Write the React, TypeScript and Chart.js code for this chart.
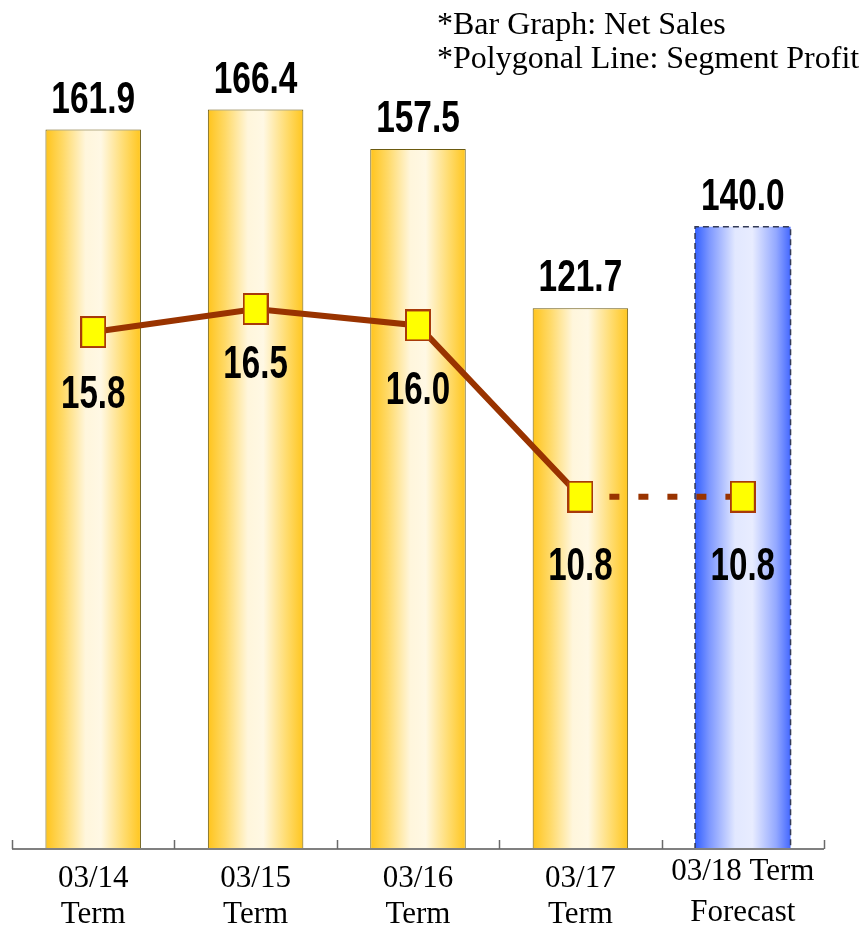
import React, { useEffect, useRef } from 'react';
import { Chart, registerables } from 'chart.js';
Chart.register(...registerables);

// ---- data ----
const categoryLines: string[][] = [
  ['03/14', 'Term'],
  ['03/15', 'Term'],
  ['03/16', 'Term'],
  ['03/17', 'Term'],
  ['03/18 Term', 'Forecast'],
];
const netSales: number[] = [161.9, 166.4, 157.5, 121.7, 140.0];
const segmentProfit: number[] = [15.8, 16.5, 16.0, 10.8, 10.8];
const forecastIndex = 4;
const legendLines: string[] = ['*Bar Graph: Net Sales', '*Polygonal Line: Segment Profit'];

// ---- style ----
const W = 863;
const H = 927;
const BAR_PCT = 0.588;
const lineLabelOffsets = [76, 69, 79, 83, 83];
const LINE_COLOR = '#993300';
const MARKER_BORDER = '#A83A0A';

function makeMarker(): HTMLCanvasElement {
  const c = document.createElement('canvas');
  c.width = 26;
  c.height = 32;
  const g = c.getContext('2d')!;
  g.fillStyle = '#FFFF00';
  g.fillRect(1, 1, 24, 30);
  g.strokeStyle = MARKER_BORDER;
  g.lineWidth = 2;
  g.strokeRect(1, 1, 24, 30);
  return c;
}

function barBg(ctx: any) {
  const chart = ctx.chart;
  const xs = chart.scales?.x;
  if (!xs || ctx.dataIndex === undefined || !chart.chartArea) return '#FFC820';
  const cx = xs.getPixelForValue(ctx.dataIndex);
  const half = ((chart.chartArea.right - chart.chartArea.left) / netSales.length) * BAR_PCT / 2;
  const g = chart.ctx.createLinearGradient(cx - half, 0, cx + half, 0);
  if (ctx.dataIndex === forecastIndex) {
    g.addColorStop(0, '#3360FF');
    g.addColorStop(0.15, '#7D97FF');
    g.addColorStop(0.42, '#E2E8FF');
    g.addColorStop(0.6, '#E8ECFF');
    g.addColorStop(0.85, '#93A8FF');
    g.addColorStop(1, '#4468FF');
  } else {
    g.addColorStop(0, '#FFC41C');
    g.addColorStop(0.18, '#FFD966');
    g.addColorStop(0.42, '#FFF6DC');
    g.addColorStop(0.58, '#FFF8E4');
    g.addColorStop(0.82, '#FFDC70');
    g.addColorStop(1, '#FFC61E');
  }
  return g;
}

function drawScaled(ctx: CanvasRenderingContext2D, text: string, x: number, y: number, font: string, sx: number) {
  ctx.save();
  ctx.translate(x, y);
  ctx.scale(sx, 1);
  ctx.font = font;
  ctx.textAlign = 'center';
  ctx.textBaseline = 'alphabetic';
  ctx.fillStyle = '#000';
  ctx.fillText(text, 0, 0);
  ctx.restore();
}

const overlayPlugin = {
  id: 'overlay',
  afterDatasetDraw(chart: any, args: any) {
    if (args.index !== 0) return;
    const ctx: CanvasRenderingContext2D = chart.ctx;
    const bar = chart.getDatasetMeta(0).data[forecastIndex];
    if (!bar) return;
    const { x, y, base, width } = bar.getProps(['x', 'y', 'base', 'width'], true);
    ctx.save();
    ctx.strokeStyle = '#333A55';
    ctx.lineWidth = 1.5;
    ctx.setLineDash([6, 4]);
    ctx.beginPath();
    ctx.moveTo(x - width / 2, base);
    ctx.lineTo(x - width / 2, y);
    ctx.lineTo(x + width / 2, y);
    ctx.lineTo(x + width / 2, base);
    ctx.stroke();
    ctx.restore();
  },
  afterDraw(chart: any) {
    const ctx: CanvasRenderingContext2D = chart.ctx;
    const area = chart.chartArea;
    const n = netSales.length;
    const catW = (area.right - area.left) / n;
    const axisY = area.bottom;

    // axis line and ticks
    ctx.save();
    ctx.strokeStyle = '#808080';
    ctx.lineWidth = 2;
    ctx.beginPath();
    ctx.moveTo(area.left, axisY);
    ctx.lineTo(area.right, axisY);
    ctx.stroke();
    ctx.lineWidth = 1.5;
    ctx.strokeStyle = '#6a6a6a';
    for (let i = 0; i <= n; i++) {
      const tx = Math.round(area.left + i * catW) + 0.5;
      ctx.beginPath();
      ctx.moveTo(tx, axisY - 9);
      ctx.lineTo(tx, axisY);
      ctx.stroke();
    }
    ctx.restore();

    // category labels
    ctx.save();
    ctx.font = '31px "Liberation Serif", "Times New Roman", serif';
    ctx.fillStyle = '#000';
    ctx.textAlign = 'center';
    ctx.textBaseline = 'alphabetic';
    categoryLines.forEach((lines, i) => {
      const cx = chart.scales.x.getPixelForValue(i);
      const first = i === forecastIndex ? axisY + 31 : axisY + 38;
      const gap = i === forecastIndex ? 41 : 36;
      lines.forEach((t, j) => ctx.fillText(t, cx, first + j * gap));
    });
    ctx.restore();

    // bar value labels
    const barMeta = chart.getDatasetMeta(0);
    barMeta.data.forEach((el: any, i: number) => {
      drawScaled(ctx, netSales[i].toFixed(1), el.x, el.y - 17, 'bold 44px "Liberation Sans", Arial, sans-serif', 0.76);
    });

    // line value labels
    const lineMeta = chart.getDatasetMeta(1);
    lineMeta.data.forEach((el: any, i: number) => {
      drawScaled(ctx, segmentProfit[i].toFixed(1), el.x, el.y + lineLabelOffsets[i], 'bold 46px "Liberation Sans", Arial, sans-serif', 0.72);
    });

    // legend note
    ctx.save();
    ctx.font = '32px "Liberation Serif", "Times New Roman", serif';
    ctx.fillStyle = '#000';
    ctx.textAlign = 'left';
    ctx.textBaseline = 'alphabetic';
    legendLines.forEach((t, j) => ctx.fillText(t, 437, 34 + j * 34));
    ctx.restore();
  },
};

export default function App() {
  const ref = useRef<HTMLCanvasElement>(null);
  useEffect(() => {
    if (!ref.current) return;
    const marker = makeMarker();
    const chart = new Chart(ref.current, {
      type: 'bar',
      data: {
        labels: categoryLines.map((l) => l.join(' ')),
        datasets: [
          {
            type: 'bar',
            label: 'Net Sales',
            data: netSales,
            yAxisID: 'y',
            backgroundColor: barBg as any,
            borderColor: netSales.map((_, i) => (i === forecastIndex ? 'rgba(0,0,0,0)' : '#6B5A10')),
            borderWidth: netSales.map((_, i) => (i === forecastIndex ? 0 : 1)),
            barPercentage: BAR_PCT,
            categoryPercentage: 1,
            order: 2,
          },
          {
            type: 'line',
            label: 'Segment Profit',
            data: segmentProfit,
            yAxisID: 'y2',
            borderColor: LINE_COLOR,
            borderWidth: 6,
            tension: 0,
            pointStyle: marker as any,
            pointRadius: 13,
            segment: {
              borderDash: (c: any) => (c.p1DataIndex === forecastIndex ? [10, 19] : undefined),
            },
            order: 1,
          } as any,
        ],
      },
      options: {
        responsive: false,
        animation: false,
        layout: { autoPadding: false, padding: { left: 12, right: W - 824, top: 6, bottom: H - 849 } },
        scales: {
          x: { display: false, offset: true },
          y: { display: false, min: 0, max: 189.7 },
          y2: { display: false, min: 0.1, max: 25.7 },
        },
        plugins: { legend: { display: false }, tooltip: { enabled: false } },
      },
      plugins: [overlayPlugin],
    });
    return () => chart.destroy();
  }, []);
  return (
    <div style={{ position: 'absolute', left: 0, top: 0, width: W, height: H, background: '#fff' }}>
      <canvas ref={ref} width={W} height={H} style={{ display: 'block', width: W, height: H }} />
    </div>
  );
}
